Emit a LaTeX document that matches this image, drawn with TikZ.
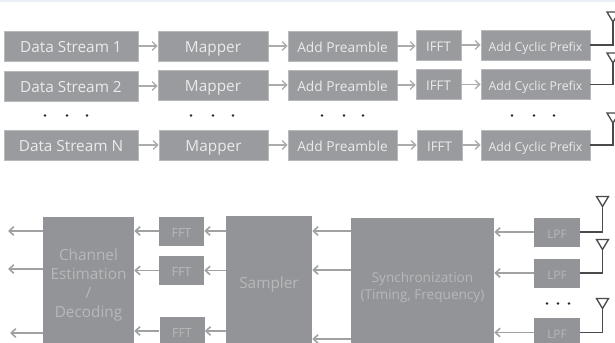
\documentclass[tikz,border=0pt]{standalone}
\usepackage{fontspec}
\setmainfont{Open Sans}
\usetikzlibrary{arrows.meta}
\definecolor{boxtop}{HTML}{9A9B9E}
\definecolor{boxbot}{HTML}{939497}
\definecolor{arrowtop}{HTML}{ABACAE}
\definecolor{arrowbot}{HTML}{A0A1A3}
\definecolor{txtbot}{HTML}{B7B8BA}
\definecolor{antline}{HTML}{4A4A4C}
\definecolor{edgeline}{HTML}{EAF0F6}
\tikzset{
  tbox/.style 2 args={fill=boxtop,draw=boxtop!70!white,line width=.4pt,text=white!92!black,inner sep=0pt,align=center,
    text height=.95em,text depth=0pt,
    minimum width=#1*0.75pt,minimum height=#2*0.75pt,font=\fontsize{11.5}{14}\selectfont},
  tmid/.style={font=\fontsize{10.3}{12}\selectfont},
  tsmall/.style={font=\fontsize{9.2}{11}\selectfont},
  tfft/.style={font=\fontsize{10}{12}\selectfont},
  bbox/.style 2 args={fill=boxbot,inner sep=0pt,align=center,text=txtbot,
    text height=.95em,text depth=0pt,
    minimum width=#1*0.75pt,minimum height=#2*0.75pt,font=\fontsize{11.5}{14.25}\selectfont},
  bmulti/.style={text height=,text depth=},
  bsmall/.style={font=\fontsize{9.4}{11}\selectfont},
  lsmall/.style={font=\fontsize{8.8}{11}\selectfont},
  bsync/.style={font=\fontsize{10.2}{12.75}\selectfont},
  tarrow/.style={draw=arrowtop,line width=1pt,-{Straight Barb[length=3.5pt,width=6.5pt]}},
  barrow/.style={draw=arrowbot,line width=1.2pt,-{Straight Barb[length=3.5pt,width=6.5pt]}},
  antwire/.style={draw=antline,line width=1.1pt},
  anttri/.style={draw=antline,line width=1pt,line join=miter},
  dotmark/.style={circle,fill=black!85,inner sep=0pt,minimum size=2.2pt},
}
\begin{document}
\begin{tikzpicture}[x=0.75pt,y=-0.75pt]
\clip (0,0) rectangle (615,343);
\fill[edgeline] (0,0) rectangle (615,1.5);
% transmitter boxes
\node[tbox={134}{30}] (ds1) at (71,46) {Data Stream 1};
\node[tbox={134}{30}] (ds2) at (71,86) {Data Stream 2};
\node[tbox={134}{30}] (dsn) at (71,145) {Data Stream N};
\node[tbox={110}{30}] (map1) at (213,46) {Mapper};
\node[tbox={110}{30}] (map2) at (213,85) {Mapper};
\node[tbox={109}{30}] (mapn) at (213.5,145) {Mapper};
\node[tbox={109}{30},tmid] (pre1) at (342.5,46) {Add Preamble};
\node[tbox={109}{30},tmid] (pre2) at (342.5,85) {Add Preamble};
\node[tbox={109}{30},tmid] (pren) at (342.5,145) {Add Preamble};
\node[tbox={45}{30},tfft] (ifft1) at (438.5,45) {IFFT};
\node[tbox={45}{30},tfft] (ifft2) at (438.5,84.5) {IFFT};
\node[tbox={45}{30},tfft] (ifftn) at (439.5,145) {IFFT};
\node[tbox={109}{30},tsmall] (cp1) at (535.5,45) {Add Cyclic Prefix};
\node[tbox={109}{30},tsmall] (cp2) at (535.5,84.5) {Add Cyclic Prefix};
\node[tbox={109}{30},tsmall] (cpn) at (535.5,145) {Add Cyclic Prefix};
% transmitter arrows
\foreach \a/\b in {ds1/map1,ds2/map2,dsn/mapn,map1/pre1,map2/pre2,mapn/pren,pre1/ifft1,pre2/ifft2,pren/ifftn,ifft1/cp1,ifft2/cp2,ifftn/cpn}
  \draw[tarrow] (\a.east) -- (\a.east -| \b.west);
% transmit antennas
\coordinate (ta1) at (613,22);
\coordinate (ta2) at (613,63);
\coordinate (ta3) at (613,123);
\foreach \c/\t in {cp1/ta1,cp2/ta2,cpn/ta3}{
  \draw[antwire] (\c.east) -| (\t);
  \draw[anttri] (\t) -- ++(-6,-10) -- ++(12,0) -- cycle;
}
% dots
\foreach \x in {45,67,87,191,213,233,322,344,363,512,534,554}
  \node[dotmark] at (\x,115.5) {};
% receiver boxes
\node[bbox={91}{130},bmulti] (chan) at (88.5,282) {\rule{0pt}{14pt}Channel\\Estimation\\/\\Decoding};
\node[bbox={45}{29},bsmall] (fft1) at (181.5,231) {FFT};
\node[bbox={45}{29},bsmall] (fft2) at (181.5,270.5) {FFT};
\node[bbox={45}{29},bsmall] (fftn) at (182,331) {FFT};
\node[bbox={86}{130},text height=1.1em] (samp) at (269,281) {Sampler};
\node[bbox={143}{130},bsync,bmulti] (sync) at (422.5,283) {\rule{0pt}{14pt}Synchronization\\(Timing, Frequency)};
\node[bbox={46}{29},lsmall] (lpf1) at (557,232) {LPF};
\node[bbox={46}{29},lsmall] (lpf2) at (557,273) {LPF};
\node[bbox={46}{29},lsmall] (lpfn) at (557,332.5) {LPF};
% output ends
\coordinate (out1) at (8,231);
\coordinate (out2) at (8,269);
\coordinate (out3) at (10,333);
% receiver arrows
\draw[barrow] (chan.west |- out1) -- (out1);
\draw[barrow] (chan.west |- out2) -- (out2);
\draw[barrow] (chan.west |- out3) -- (out3);
\foreach \f in {fft1,fft2,fftn}{
  \draw[barrow] (\f.west) -- (\f.west -| chan.east);
  \draw[barrow] (samp.west |- \f.west) -- (\f.east);
}
\coordinate (sy1) at (0,231);
\coordinate (sy2) at (0,270);
\coordinate (sy3) at (0,339);
\foreach \s in {sy1,sy2,sy3}
  \draw[barrow] (sync.west |- \s) -- (samp.east |- \s);
\foreach \l in {lpf1,lpf2,lpfn}
  \draw[barrow] (\l.west) -- (\l.west -| sync.east);
% receive antennas
\coordinate (ra1) at (602.5,206.5);
\coordinate (ra2) at (602.5,249.5);
\coordinate (ra3) at (602.5,308.5);
\foreach \l/\r in {lpf1/ra1,lpf2/ra2,lpfn/ra3}{
  \draw[antwire] (\l.east) -| (\r);
  \draw[anttri] (\r) -- ++(-6,-10) -- ++(12,0) -- cycle;
}
\foreach \x in {547,558,569}
  \node[dotmark] at (\x,303.5) {};
\end{tikzpicture}
\end{document}
